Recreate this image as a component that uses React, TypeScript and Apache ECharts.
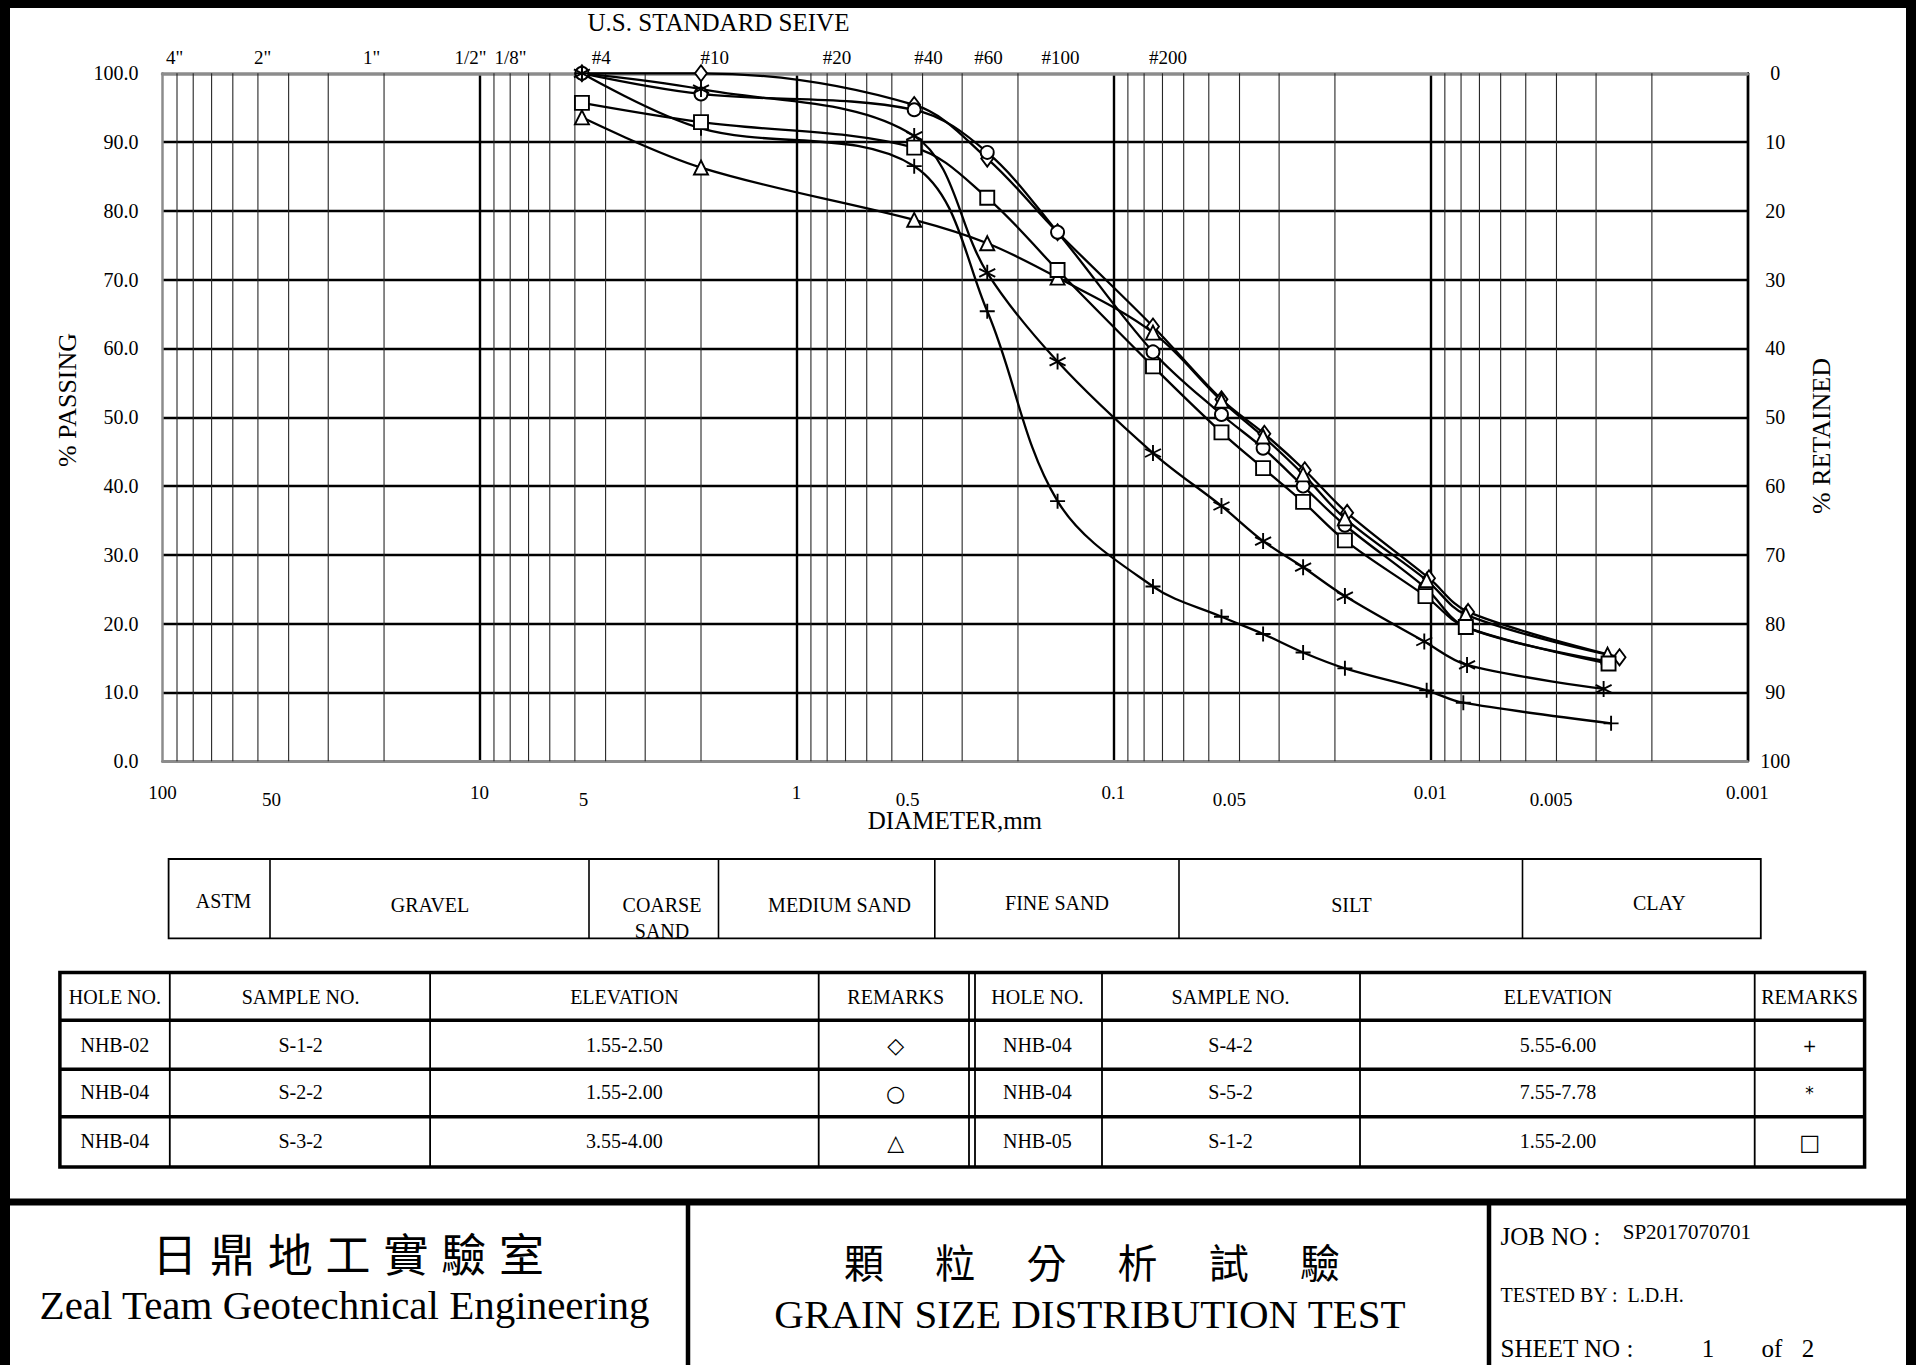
import React, { useEffect, useRef } from "react";
import * as echarts from "echarts";

// ---------- DATA ----------
const sieveSizes = [4.75, 2.0, 0.425, 0.25, 0.15, 0.075];

const diamondD = [...sieveSizes, 0.0456, 0.0334, 0.0249, 0.0183, 0.0101, 0.0076, 0.00253];
const diamondP = [100, 100, 95.4, 87.6, 76.9, 63.2, 52.6, 47.6, 42.3, 36.1, 26.6, 21.7, 15.1];

const circleD = [...sieveSizes, 0.0456, 0.0337, 0.0252, 0.0186, 0.01036, 0.00773, 0.00276];
const circleP = [100, 97.0, 94.7, 88.5, 76.9, 59.5, 50.4, 45.5, 40.0, 34.3, 25.2, 19.5, 14.5];

const triangleD = [...sieveSizes, 0.0456, 0.0337, 0.0252, 0.0186, 0.01027, 0.00773, 0.00276];
const triangleP = [93.6, 86.3, 78.7, 75.3, 70.3, 62.3, 52.4, 47.2, 41.7, 35.3, 26.3, 21.3, 15.5];

const plusD = [...sieveSizes, 0.0456, 0.0337, 0.0252, 0.0186, 0.01027, 0.00787, 0.00269];
const plusP = [100, 92.0, 86.5, 65.4, 37.8, 25.4, 21.0, 18.5, 15.8, 13.5, 10.3, 8.5, 5.5];

const asteriskD = [...sieveSizes, 0.0456, 0.0337, 0.0252, 0.0186, 0.01045, 0.00766, 0.00284];
const asteriskP = [100, 97.7, 90.9, 71.0, 58.1, 44.8, 37.1, 32.0, 28.2, 24.0, 17.4, 14.0, 10.5];

const squareD = [...sieveSizes, 0.0456, 0.0337, 0.0252, 0.0186, 0.01036, 0.00773, 0.00274];
const squareP = [95.7, 92.9, 89.2, 81.9, 71.4, 57.4, 47.8, 42.6, 37.7, 32.1, 24.0, 19.5, 14.2];

const sieveLabels = ['4"', '2"', '1"', '1/2"', '1/8"', "#4", "#10", "#20", "#40", "#60", "#100", "#200"];
const halfDecadeLabels = [50, 5, 0.5, 0.05, 0.005];

const classLabels = ["ASTM", "GRAVEL", "COARSE\nSAND", "MEDIUM SAND", "FINE SAND", "SILT", "CLAY"];

const tableHeader = ["HOLE NO.", "SAMPLE NO.", "ELEVATION", "REMARKS"];
const leftHole = ["NHB-02", "NHB-04", "NHB-04"];
const leftSample = ["S-1-2", "S-2-2", "S-3-2"];
const leftElev = ["1.55-2.50", "1.55-2.00", "3.55-4.00"];
const leftMark = ["◇", "○", "△"];
const rightHole = ["NHB-04", "NHB-04", "NHB-05"];
const rightSample = ["S-4-2", "S-5-2", "S-1-2"];
const rightElev = ["5.55-6.00", "7.55-7.78", "1.55-2.00"];
const rightMark = ["+", "*", "□"];

const labName = "日鼎地工實驗室";
const labNameEn = "Zeal Team Geotechnical Engineering";
const testName = "顆粒分析試驗";
const testNameEn = "GRAIN SIZE DISTRIBUTION TEST";

// ---------- LAYOUT ----------
const FONT = "'Liberation Serif', 'Times New Roman', serif";
const CJK = "'Noto Sans CJK TC', 'Noto Sans CJK SC', sans-serif";
const SYM = "'DejaVu Sans', 'Noto Sans CJK TC', sans-serif";
const GRID = { left: 162.5, top: 73.3, width: 1584.8, height: 687.9 };
const sieveLabelX = [174.7, 262.7, 371.5, 470.5, 510.5, 601.2, 714.8, 837.0, 928.6, 988.5, 1060.6, 1168.1];
const classDividers = [270, 589, 718.5, 934.8, 1179, 1522.5];
const classTextX = [223.6, 430, 662, 839.5, 1057, 1351.4, 1659.3];
const classTextY = [900.5, 905.4, 918, 905.4, 903, 905.4, 903];
const tableCols = [169.8, 430.1, 818.7, 969, 975, 1102, 1360, 1754.7];
const tableRows = [1020.3, 1069.2, 1116.8];
const leftColX = [114.9, 300.6, 624.4, 895.7];
const rightColX = [1037.4, 1230.5, 1558, 1809.6];
const rowY = [1044.7, 1092.4, 1141.3];

const multipliers = [2, 3, 4, 5, 6, 7, 8, 9];
const decades = [0.001, 0.01, 0.1, 1, 10];

const PLUS = "path://M0,-10L0,10M-10,0L10,0";
const STAR = "path://M0,-10L0,10M-8.66,-5L8.66,5M-8.66,5L8.66,-5";

const samples = [
  { name: "NHB-02 S-1-2", d: diamondD, p: diamondP, symbol: "diamond", size: [12, 16] },
  { name: "NHB-04 S-2-2", d: circleD, p: circleP, symbol: "circle", size: 13 },
  { name: "NHB-04 S-3-2", d: triangleD, p: triangleP, symbol: "triangle", size: 14 },
  { name: "NHB-04 S-4-2", d: plusD, p: plusP, symbol: PLUS, size: 15 },
  { name: "NHB-04 S-5-2", d: asteriskD, p: asteriskP, symbol: STAR, size: 16 },
  { name: "NHB-05 S-1-2", d: squareD, p: squareP, symbol: "rect", size: 14 },
];

function txt(text: string, x: number, y: number, size: number, o: any = {}) {
  return {
    type: "text",
    x,
    y,
    rotation: o.rot || 0,
    silent: true,
    z: 10,
    style: {
      text,
      fontSize: size,
      fontFamily: o.family || FONT,
      fill: "#000",
      align: o.align || "center",
      verticalAlign: o.va || "middle",
      lineHeight: o.lh,
    },
  };
}
function ln(x1: number, y1: number, x2: number, y2: number, w: number) {
  return { type: "line", silent: true, z: 10, shape: { x1, y1, x2, y2 }, style: { stroke: "#000", lineWidth: w } };
}

export default function App() {
  const ref = useRef<HTMLDivElement>(null);
  useEffect(() => {
    const chart = echarts.init(ref.current!, null, { renderer: "svg" });
    const minorGrid: number[] = [];
    decades.forEach((d) => multipliers.forEach((m) => minorGrid.push(+(d * m).toPrecision(3))));

    const fmtLog = (v: number) => String(parseFloat(Number(v).toPrecision(3)));

    chart.setOption({
      animation: false,
      backgroundColor: "#fff",
      textStyle: { fontFamily: FONT, color: "#000" },
      grid: GRID,
      xAxis: [
        {
          type: "log",
          logBase: 10,
          min: 0.001,
          max: 100,
          inverse: true,
          splitNumber: 5,
          name: "DIAMETER,mm",
          nameLocation: "middle",
          nameGap: 47,
          nameTextStyle: { fontSize: 25, fontFamily: FONT, color: "#000" },
          axisLine: { show: true, lineStyle: { color: "#8c8c8c", width: 3 } },
          axisTick: { show: false },
          axisLabel: { fontSize: 19, color: "#000", fontFamily: FONT, margin: 22, formatter: fmtLog },
          splitLine: { show: true, showMaxLine: false, lineStyle: { color: "#000", width: 2.4 } },
        },
        {
          type: "log",
          logBase: 10,
          min: 0.001,
          max: 100,
          inverse: true,
          position: "top",
          axisLine: { show: true, lineStyle: { color: "#8c8c8c", width: 3.5 } },
          axisTick: { show: false },
          axisLabel: { show: false },
          splitLine: { show: false },
        },
      ],
      yAxis: [
        {
          type: "value",
          min: 0,
          max: 100,
          interval: 10,
          axisLine: { show: true, lineStyle: { color: "#8c8c8c", width: 2.5 } },
          axisTick: { show: false },
          axisLabel: { fontSize: 20, color: "#000", fontFamily: FONT, margin: 24, formatter: (v: number) => v.toFixed(1) },
          splitLine: { show: true, showMinLine: false, showMaxLine: false, lineStyle: { color: "#000", width: 2.4 } },
        },
        {
          type: "value",
          min: 0,
          max: 100,
          interval: 10,
          inverse: true,
          position: "right",
          axisLine: { show: true, lineStyle: { color: "#000", width: 2.4 } },
          axisTick: { show: false },
          axisLabel: { fontSize: 20, color: "#000", fontFamily: FONT, margin: 28, align: "center" },
          splitLine: { show: false },
        },
      ],
      series: [
        {
          type: "custom",
          silent: true,
          z: 1,
          xAxisIndex: 0,
          yAxisIndex: 0,
          encode: { x: 0, y: 1 },
          data: minorGrid.map((v) => [v, 0]),
          renderItem: (_p: any, api: any) => {
            const x = api.value(0);
            const a = api.coord([x, 0]);
            const b = api.coord([x, 100]);
            return {
              type: "line",
              shape: { x1: a[0], y1: a[1], x2: b[0], y2: b[1] },
              style: { stroke: "#262626", lineWidth: 1.1 },
            };
          },
        },
        ...samples.map((s) => ({
          type: "line",
          name: s.name,
          xAxisIndex: 0,
          yAxisIndex: 0,
          data: s.d.map((d, i) => [d, s.p[i]]),
          smooth: 0.35,
          symbol: s.symbol,
          symbolSize: s.size,
          showAllSymbol: true,
          clip: false,
          z: 5,
          lineStyle: { color: "#000", width: 2.3 },
          itemStyle: { color: "#fff", borderColor: "#000", borderWidth: 1.9 },
        })),
      ],
    });

    const px = (v: number) => chart.convertToPixel({ xAxisIndex: 0 }, v) as number;
    const els: any[] = [];

    // outer frame
    els.push(ln(5, 0, 5, 1365, 10));
    els.push(ln(0, 4, 1916, 4, 8));
    els.push(ln(1911, 0, 1911, 1365, 10));

    // top texts
    els.push(txt("U.S. STANDARD SEIVE", 718.5, 22, 25));
    sieveLabels.forEach((l, i) => els.push(txt(l, sieveLabelX[i], 57.4, 19)));
    halfDecadeLabels.forEach((v) => els.push(txt(String(v), px(v) + 4, 799, 19, { align: "left" })));
    els.push(txt("% PASSING", 67, 400, 26, { rot: Math.PI / 2 }));
    els.push(txt("% RETAINED", 1821, 436, 26, { rot: Math.PI / 2 }));

    // classification table
    els.push({ type: "rect", silent: true, z: 10, shape: { x: 168.6, y: 859, width: 1592.2, height: 79.4 }, style: { fill: "none", stroke: "#000", lineWidth: 1.8 } });
    classDividers.forEach((x) => els.push(ln(x, 859, x, 938.4, 1.6)));
    classLabels.forEach((l, i) => els.push(txt(l, classTextX[i], classTextY[i], 20, { lh: 25.7 })));

    // sample table
    els.push({ type: "rect", silent: true, z: 10, shape: { x: 59.9, y: 972.6, width: 1804.7, height: 194.3 }, style: { fill: "none", stroke: "#000", lineWidth: 3.5 } });
    tableRows.forEach((y) => els.push(ln(59.9, y, 1864.6, y, 3.5)));
    tableCols.forEach((x) => els.push(ln(x, 972.6, x, 1166.9, 1.8)));
    tableHeader.forEach((h, i) => {
      els.push(txt(h, leftColX[i], 997, 20));
      els.push(txt(h, rightColX[i], 997, 20));
    });
    rowY.forEach((y, r) => {
      els.push(txt(leftHole[r], leftColX[0], y, 20));
      els.push(txt(leftSample[r], leftColX[1], y, 20));
      els.push(txt(leftElev[r], leftColX[2], y, 20));
      els.push(txt(leftMark[r], leftColX[3], y + 1, 22, { family: SYM }));
      els.push(txt(rightHole[r], rightColX[0], y, 20));
      els.push(txt(rightSample[r], rightColX[1], y, 20));
      els.push(txt(rightElev[r], rightColX[2], y, 20));
      els.push(txt(rightMark[r], rightColX[3], y + 1, r === 2 ? 22 : 17, { family: SYM }));
    });

    // title block
    els.push(ln(0, 1202, 1916, 1202, 7));
    els.push(ln(688, 1202, 688, 1365, 4.5));
    els.push(ln(1489, 1202, 1489, 1365, 4.5));
    Array.from(labName).forEach((c, i) => els.push(txt(c, 174.7 + i * 57.8, 1252.5, 45, { family: CJK })));
    els.push(txt(labNameEn, 344.6, 1305, 41));
    Array.from(testName).forEach((c, i) => els.push(txt(c, 864 + i * 91.2, 1261, 40, { family: CJK })));
    els.push(txt(testNameEn, 1090, 1313.5, 41));
    els.push(txt("JOB NO :", 1500.5, 1236.6, 25, { align: "left" }));
    els.push(txt("SP2017070701", 1622.7, 1232, 21, { align: "left" }));
    els.push(txt("TESTED BY :  L.D.H.", 1500.5, 1295, 20, { align: "left" }));
    els.push(txt("SHEET NO :", 1500.5, 1348, 25, { align: "left" }));
    els.push(txt("1", 1708, 1348, 25));
    els.push(txt("of", 1772, 1348, 25));
    els.push(txt("2", 1808, 1348, 25));

    chart.setOption({ graphic: { elements: els } });
    return () => chart.dispose();
  }, []);
  return (
    <div
      ref={ref}
      style={{ position: "fixed", left: 0, top: 0, width: 1916, height: 1365, background: "#fff" }}
    />
  );
}
